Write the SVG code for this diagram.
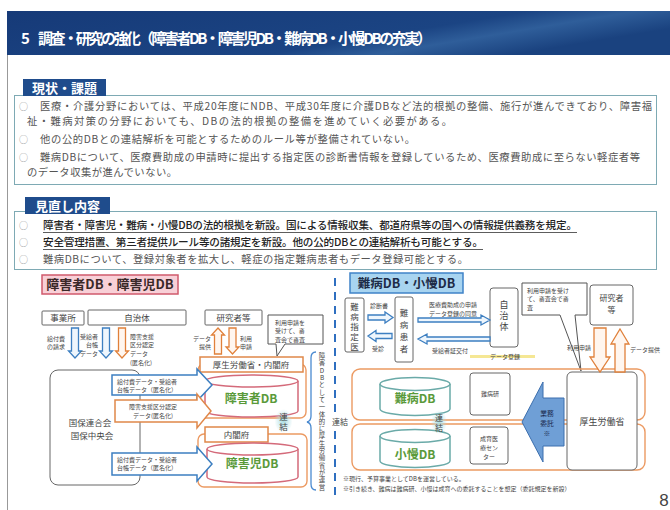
<svg xmlns="http://www.w3.org/2000/svg" width="670" height="510" viewBox="0 0 670 510">
<defs>
<linearGradient id="tg" x1="0" y1="0" x2="1" y2="0.4">
<stop offset="0" stop-color="#163a78"/>
<stop offset="0.68" stop-color="#1b4483"/>
<stop offset="0.82" stop-color="#2f5e9a"/>
<stop offset="1" stop-color="#1a427f"/>
</linearGradient>
<radialGradient id="glow">
<stop offset="0" stop-color="#a9dde3"/>
<stop offset="1" stop-color="#a9dde3" stop-opacity="0"/>
</radialGradient>
</defs>
<style>
text{font-family:"Noto Sans CJK JP","Noto Sans",sans-serif;fill:#333}
.t{font-size:15px;font-weight:bold;fill:#fff}
.lbl{font-size:13px;font-weight:bold;fill:#fff;text-anchor:middle}
.b{font-size:10.3px;fill:#555}
.u{font-size:10.6px;fill:#222;font-weight:500}
.c{font-size:9px;fill:#999}
.m{text-anchor:middle}
.e{text-anchor:end}
.s{font-size:6px;fill:#444}
.n{font-size:8.5px;fill:#444}
.xs{font-size:6px;fill:#444}
.vt{writing-mode:vertical-rl;text-orientation:upright;fill:#444}
.box{fill:#fff;stroke:#666;stroke-width:1}
.ob{fill:#fff;stroke:#e0884a;stroke-width:1.5}
.bb{fill:#fff;stroke:#3d7fc1;stroke-width:1.5}
.ba{fill:#eef6fd;stroke:#3d7fc1;stroke-width:1.3}
.oa{fill:#fff6ef;stroke:#e0803a;stroke-width:1.3}
.fr{fill:none;stroke:#ec9a62;stroke-width:1.4}
.cyl{fill:#fff;stroke:#d46a7a;stroke-width:1.5}
.cylt{fill:#fff;stroke:#6aaaa8;stroke-width:1.5}
.db{font-size:12px;font-weight:bold;fill:#5a9a3a;text-anchor:middle}
.sec{fill:none;stroke:#7eaab4;stroke-width:1}
</style>

<!-- title -->
<rect x="7" y="11" width="663" height="44" fill="url(#tg)"/>
<text class="t" x="21" y="44">5</text>
<text class="t" x="38" y="44" textLength="394">調査・研究の強化（障害者DB・障害児DB・難病DB・小慢DBの充実）</text>
<line x1="7.5" y1="55" x2="7.5" y2="510" stroke="#999" stroke-width="1"/>

<!-- section 1 -->
<g id="genjo">
<rect class="sec" x="14.5" y="95.5" width="642" height="89"/>
<rect x="23" y="79" width="83" height="17" fill="#1f4c8c"/>
<text class="lbl" x="64.5" y="92.5">現状・課題</text>
<text class="c" x="19" y="110">○</text>
<text class="b" x="40" y="110" textLength="612">医療・介護分野においては、平成20年度にNDB、平成30年度に介護DBなど法的根拠の整備、施行が進んできており、障害福</text>
<text class="b" x="27" y="125" textLength="425">祉・難病対策の分野においても、DBの法的根拠の整備を進めていく必要がある。</text>
<text class="c" x="19" y="143">○</text>
<text class="b" x="40" y="143" textLength="375">他の公的DBとの連結解析を可能とするためのルール等が整備されていない。</text>
<text class="c" x="19" y="160.5">○</text>
<text class="b" x="40" y="160.5" textLength="600">難病DBについて、医療費助成の申請時に提出する指定医の診断書情報を登録しているため、医療費助成に至らない軽症者等</text>
<text class="b" x="27" y="175.5" textLength="150">のデータ収集が進んでいない。</text>
</g>

<!-- section 2 -->
<g id="minaoshi">
<rect class="sec" x="14.5" y="211.5" width="642" height="58"/>
<rect x="25" y="197" width="85" height="17" fill="#1f4c8c"/>
<text class="lbl" x="67.5" y="210.5">見直し内容</text>
<text class="c" x="19" y="229">○</text>
<text class="u" x="43" y="229" textLength="534">障害者・障害児・難病・小慢DBの法的根拠を新設。国による情報収集、都道府県等の国への情報提供義務を規定。</text>
<line x1="43" y1="232.5" x2="577" y2="232.5" stroke="#333" stroke-width="0.8"/>
<text class="c" x="19" y="246">○</text>
<text class="u" x="43" y="246" textLength="440">安全管理措置、第三者提供ルール等の諸規定を新設。他の公的DBとの連結解析も可能とする。</text>
<line x1="43" y1="249.5" x2="483" y2="249.5" stroke="#333" stroke-width="0.8"/>
<text class="c" x="19" y="263">○</text>
<text class="b" x="43" y="263" textLength="425">難病DBについて、登録対象者を拡大し、軽症の指定難病患者もデータ登録可能とする。</text>
</g>

<!-- left diagram -->
<g id="title-shogai">
<rect x="42" y="275" width="136" height="19" fill="#f8d0d7" stroke="#d05a6c" stroke-width="1.5"/>
<text x="110" y="289" class="m" style="font-size:13px;font-weight:bold;fill:#3a2828">障害者DB・障害児DB</text>
</g>
<g id="jigyosho"><rect class="box" x="42" y="311" width="42" height="14" rx="1"/><text class="n m" x="63" y="321">事業所</text></g>
<g id="jichitai-l"><rect class="box" x="88" y="310" width="98" height="15" rx="1"/><text class="n m" x="137" y="320.5">自治体</text></g>
<g id="kokuho"><rect class="box" x="50" y="370" width="90" height="115" rx="8"/>
<text class="m" style="font-size:8.5px;fill:#444"><tspan x="90" y="426">国保連合会</tspan><tspan x="92" y="438.5">国保中央会</tspan></text></g>
<g id="kenkyusha-l"><rect class="box" x="205" y="310" width="57" height="15" rx="1"/><text class="n m" x="233.5" y="321">研究者等</text></g>
<g id="callout-l"><path d="M268,315 H323 V344 H285 L277,356 L276,344 H268 Z" fill="#fff" stroke="#555" stroke-width="1"/>
<text class="s"><tspan x="275" y="324.5">利用申請を</tspan><tspan x="275" y="333.2">受けて、審</tspan><tspan x="275" y="341.9">査会で審査</tspan></text></g>

<g id="frame-shogaisha"><rect class="fr" x="198" y="364" width="108" height="54" rx="6"/></g>
<g id="frame-shogaiji"><rect class="fr" x="198" y="434" width="109" height="53" rx="6"/></g>
<g id="mhlw-cao"><rect class="ob" x="200" y="357" width="103" height="15"/><text class="m" x="251" y="368" style="font-size:8.5px;fill:#444">厚生労働省・内閣府</text></g>
<g id="db-shogaisha">
<path class="cyl" d="M205,381 V411 A46.5,6 0 0 0 298,411 V381"/>
<ellipse class="cyl" cx="251.5" cy="381" rx="46.5" ry="6"/>
<text class="db" x="251" y="403">障害者DB</text></g>
<g id="naikakufu"><rect class="ob" x="205" y="427" width="63" height="15"/><text class="m" x="236.5" y="438" style="font-size:8.5px;fill:#444">内閣府</text></g>
<g id="db-shogaiji">
<path class="cyl" d="M207,449 V477 A45.5,6 0 0 0 298,477 V449"/>
<ellipse class="cyl" cx="252.5" cy="449" rx="45.5" ry="6"/>
<text class="db" x="252" y="468">障害児DB</text></g>
<g id="renketsu-l"><ellipse cx="283.5" cy="421" rx="9" ry="12" fill="url(#glow)"/>
<text class="vt" x="283.5" y="412.5" style="font-size:8.5px;letter-spacing:1.5px">連結</text></g>

<g id="brace">
<path d="M316,352 Q311,352 311,358 V416 Q311,421 307,422 Q311,423 311,428 V484 Q311,490 316,490" fill="none" stroke="#4a8ad0" stroke-width="1.3"/>
<text class="vt" x="322" y="352.5" style="font-size:6.4px;letter-spacing:0.9px">障害DBとして一体的に厚生労働省が運営</text>
</g>

<!-- right diagram -->
<g id="title-nanbyo">
<rect x="350" y="273" width="113" height="20" fill="#a8d4f0" stroke="#3f83c8" stroke-width="1.5"/>
<text x="406.5" y="288" class="m" style="font-size:12.5px;font-weight:bold;fill:#1e2c48">難病DB・小慢DB</text>
</g>
<g id="shiteii"><rect class="box" x="345" y="298" width="19" height="54" rx="2"/>
<text class="vt" x="354.5" y="302.5" style="font-size:8.5px;letter-spacing:1.5px">難病指定医</text></g>
<g id="kanja"><rect class="box" x="395" y="297" width="18" height="65" rx="2"/>
<text class="vt" x="404" y="308.5" style="font-size:8.5px;letter-spacing:3.5px">難病患者</text></g>
<g id="jichitai-r"><rect class="box" x="490" y="288" width="28" height="59" rx="3"/>
<text class="vt" x="504" y="300" style="font-size:9px;letter-spacing:2px">自治体</text></g>
<g id="callout-r"><path d="M522,283 H587 V315 H575 L581,371 L560,315 H522 Z" fill="#fff" stroke="#555" stroke-width="1"/>
<text class="s"><tspan x="527" y="292.5">利用申請を受け</tspan><tspan x="527" y="301.2">て、審査会で審</tspan><tspan x="527" y="309.9">査</tspan></text></g>
<g id="kenkyusha-r"><rect class="box" x="590" y="285" width="43" height="40" rx="3"/>
<text class="m" style="font-size:8px;fill:#444"><tspan x="611.5" y="301">研究者</tspan><tspan x="611.5" y="312.6">等</tspan></text></g>
<g id="frame-nanbyo"><rect class="fr" x="352" y="369" width="293" height="51" rx="8"/></g>
<g id="frame-shoman"><rect class="fr" x="352" y="424" width="293" height="46" rx="8"/></g>
<g id="mhlw"><rect class="box" x="567" y="372" width="70" height="98" rx="5"/><text class="m" x="602" y="425" style="font-size:9px;fill:#444">厚生労働省</text></g>
<g id="db-nanbyo">
<path class="cylt" d="M380,384 V409 A35,6.5 0 0 0 450,409 V384"/>
<ellipse class="cylt" cx="415" cy="384" rx="35" ry="6.5"/>
<text class="db" x="415" y="403">難病DB</text></g>
<g id="db-shoman">
<path class="cylt" d="M380,436 V461 A35,6.5 0 0 0 450,461 V436"/>
<ellipse class="cylt" cx="415" cy="436" rx="35" ry="6.5"/>
<text class="db" x="415" y="459">小慢DB</text></g>
<g id="renketsu-r"><ellipse cx="439" cy="422" rx="8" ry="12" fill="url(#glow)"/>
<text class="vt" x="439" y="414" style="font-size:8px;letter-spacing:2px">連結</text></g>
<g id="nanbyoken"><rect class="box" x="470" y="373" width="40" height="42" rx="3"/><text class="xs m" x="490" y="396">難病研</text></g>
<g id="seiiku"><rect class="box" x="470" y="427" width="38" height="37" rx="3"/>
<text class="xs m"><tspan x="489" y="441">成育医</tspan><tspan x="489" y="450">療セン</tspan><tspan x="489" y="459">ター</tspan></text></g>
<g id="itaku">
<polygon points="522,422 543,382 543,398 564,398 564,446 543,446 543,462" fill="#6f9fd6" stroke="#3c6fae" stroke-width="1"/>
<text class="m" style="font-size:6.8px;fill:#1c2c50"><tspan x="547" y="416">業務</tspan><tspan x="547" y="426">委託</tspan><tspan x="547" y="436">※</tspan></text></g>

<!-- connectors -->
<g id="connectors">
<polygon class="ba" points="71.5,328 78.5,328 78.5,351 81.5,351 75,358 68.5,351 71.5,351"/>
<polygon class="ba" points="102.5,328 109.5,328 109.5,351 112.5,351 106,358 99.5,351 102.5,351"/>
<polygon class="oa" points="118.5,328 125.5,328 125.5,351 128.5,351 122,358 115.5,351 118.5,351"/>
<polygon class="bb" points="112,375 197,375 197,369 212,385 197,401 197,395 112,395"/>
<polygon class="ob" points="115,400 197,400 197,394 211,411 197,428 197,422 115,422"/>
<polygon class="bb" points="112,453 197,453 197,447 212,464 197,481 197,475 112,475"/>
<polygon class="oa" points="218,328 224.5,335 221.5,335 221.5,354 214.5,354 214.5,335 211.5,335"/>
<polygon class="oa" points="229,328 236,328 236,347 239,347 232.5,354 226,347 229,347"/>
<line x1="335" y1="278" x2="335" y2="412" stroke="#2f6fc0" stroke-width="2" stroke-dasharray="8 6"/>
<line x1="335" y1="431" x2="335" y2="497" stroke="#2f6fc0" stroke-width="2" stroke-dasharray="8 6"/>
<polygon class="ba" points="368,315 385,315 385,312 393,317.5 385,323 385,320 368,320"/>
<polygon class="ba" points="392,333.5 376,333.5 376,330.5 368,336 376,341.5 376,338.5 392,338.5"/>
<polygon class="ba" points="418,318 481,318 481,315 490,320 481,325 481,322 418,322"/>
<polygon class="ba" points="490,337 427,337 427,334 418,339 427,344 427,341 490,341"/>
<line x1="470" y1="356.5" x2="535" y2="356.5" stroke="#f3e27a" stroke-width="3" opacity="0.8"/>
<polygon class="oa" points="594,328 606,328 606,357 610,357 600,372 590,357 594,357"/>
<polygon class="oa" points="620,329 629,344 625,344 625,372 615,372 615,344 611,344"/>
</g>

<!-- connector labels -->
<g id="labels">
<text class="s"><tspan x="47" y="340.5">給付費</tspan><tspan x="47" y="349.2">の請求</tspan></text>
<text class="s e"><tspan x="98" y="338.5">受給者</tspan><tspan x="98" y="347.2">台帳</tspan><tspan x="98" y="355.9">データ</tspan></text>
<text class="s"><tspan x="130" y="338.5">障害支援</tspan><tspan x="130" y="347.2">区分認定</tspan><tspan x="130" y="355.9">データ</tspan><tspan x="130" y="364.6">(匿名化)</tspan></text>
<text class="s"><tspan x="117" y="383.5">給付費データ・受給者</tspan><tspan x="117" y="392.2">台帳データ（匿名化）</tspan></text>
<text class="s m"><tspan x="153" y="409">障害支援区分認定</tspan><tspan x="153" y="418">データ(匿名化)</tspan></text>
<text class="s"><tspan x="117" y="461.5">給付費データ・受給者</tspan><tspan x="117" y="470.2">台帳データ（匿名化）</tspan></text>
<text class="s e"><tspan x="211" y="340.5">データ</tspan><tspan x="211" y="349.2">提供</tspan></text>
<text class="s"><tspan x="240" y="340.5">利用</tspan><tspan x="240" y="349.2">申請</tspan></text>
<text class="m" x="340" y="424.5" style="font-size:8px;fill:#444">連結</text>
<text class="s m" x="379" y="308">診断書</text>
<text class="s m" x="378" y="351">受診</text>
<text class="xs m"><tspan x="453" y="307">医療費助成の申請</tspan><tspan x="453" y="315.7">データ登録の同意</tspan></text>
<text class="xs m" x="450" y="353">受給者証交付</text>
<text class="s" x="490" y="359">データ登録</text>
<text class="s e" x="591" y="350">利用申請</text>
<text class="s" x="630" y="352">データ提供</text>
</g>

<g id="notes">
<text class="xs"><tspan x="343" y="481">※現行、予算事業としてDBを運営している。</tspan><tspan x="343" y="491">※引き続き、難病は難病研、小慢は成育への委託することを想定（委託規定を新設）</tspan></text>
<text x="664" y="506" text-anchor="middle" style="font-family:'Liberation Sans',sans-serif;font-size:17px;fill:#444">8</text>
</g>
</svg>
